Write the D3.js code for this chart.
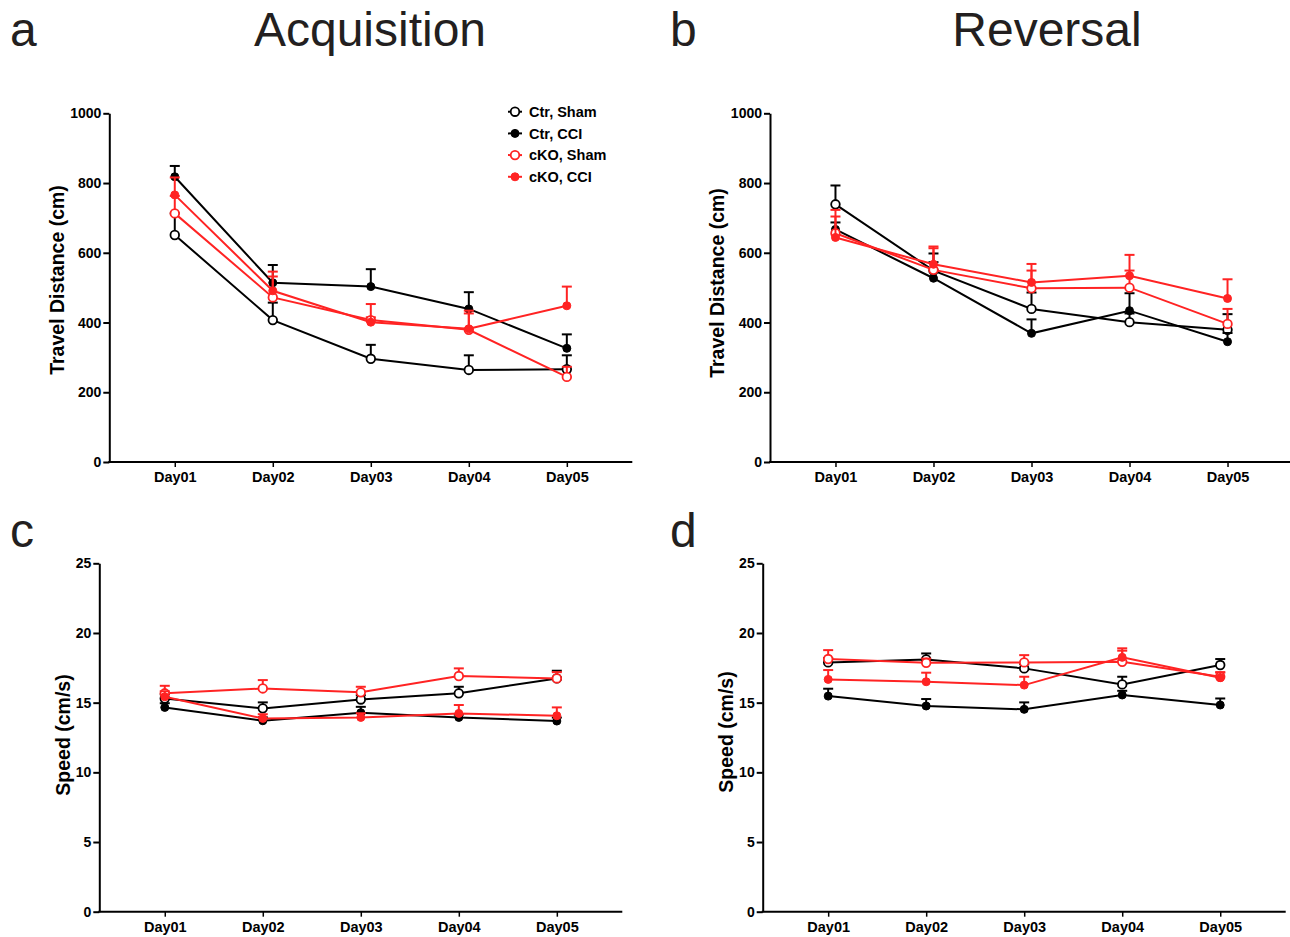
<!DOCTYPE html>
<html>
<head>
<meta charset="utf-8">
<script src="https://cdn.jsdelivr.net/npm/d3@7/dist/d3.min.js"></script>
<style>
  html, body { margin: 0; padding: 0; background: #fff; }
  svg { display: block; }
  text { font-family: "Liberation Sans", Arial, Helvetica, sans-serif; }
</style>
</head>
<body>
<svg id="chart" width="1290" height="937"></svg>
<script>
// ---------------- DATA ----------------
const days = ["Day01", "Day02", "Day03", "Day04", "Day05"];
const groups = ["Ctr, Sham", "Ctr, CCI", "cKO, Sham", "cKO, CCI"];
const distanceTicks = [0, 200, 400, 600, 800, 1000];
const speedTicks = [0, 5, 10, 15, 20, 25];

// a: Acquisition, travel distance (cm), mean and upward SEM
const acqDistCtrSham    = [651, 407, 296, 264, 266];
const acqDistCtrShamErr = [62, 50, 40, 42, 40];
const acqDistCtrCCI     = [818, 514, 503, 439, 326];
const acqDistCtrCCIErr  = [31, 51, 50, 48, 40];
const acqDistKOSham     = [713, 472, 407, 379, 244];
const acqDistKOShamErr  = [50, 60, 8, 47, 29];
const acqDistKOCCI      = [766, 491, 401, 382, 448];
const acqDistKOCCIErr   = [50, 55, 52, 52, 55];

// b: Reversal, travel distance (cm)
const revDistCtrSham    = [739, 549, 439, 401, 379];
const revDistCtrShamErr = [54, 49, 47, 25, 45];
const revDistCtrCCI     = [667, 527, 369, 434, 345];
const revDistCtrCCIErr  = [20, 46, 40, 50, 25];
const revDistKOSham     = [656, 551, 498, 500, 396];
const revDistKOShamErr  = [48, 62, 51, 49, 43];
const revDistKOCCI      = [644, 567, 515, 534, 469];
const revDistKOCCIErr   = [79, 51, 53, 60, 55];

// c: Acquisition, speed (cm/s)
const acqSpeedCtrSham    = [15.30, 14.59, 15.23, 15.67, 16.74];
const acqSpeedCtrShamErr = [0.30, 0.43, 0.30, 0.47, 0.55];
const acqSpeedCtrCCI     = [14.66, 13.70, 14.28, 13.94, 13.68];
const acqSpeedCtrCCIErr  = [0.30, 0.25, 0.42, 0.20, 0.25];
const acqSpeedKOSham     = [15.67, 16.02, 15.74, 16.91, 16.74];
const acqSpeedKOShamErr  = [0.54, 0.60, 0.40, 0.55, 0.45];
const acqSpeedKOCCI      = [15.42, 13.87, 13.94, 14.23, 14.06];
const acqSpeedKOCCIErr   = [0.40, 0.30, 0.30, 0.60, 0.60];

// d: Reversal, speed (cm/s)
const revSpeedCtrSham    = [17.89, 18.10, 17.46, 16.31, 17.70];
const revSpeedCtrShamErr = [0.30, 0.43, 0.30, 0.55, 0.43];
const revSpeedCtrCCI     = [15.47, 14.76, 14.52, 15.55, 14.83];
const revSpeedCtrCCIErr  = [0.53, 0.50, 0.50, 0.30, 0.47];
const revSpeedKOSham     = [18.13, 17.86, 17.89, 17.93, 16.86];
const revSpeedKOShamErr  = [0.64, 0.30, 0.52, 0.80, 0.30];
const revSpeedKOCCI      = [16.67, 16.50, 16.26, 18.25, 16.79];
const revSpeedKOCCIErr   = [0.67, 0.65, 0.60, 0.65, 0.40];

// ---------------- STYLE ----------------
const RED = "#ff2323";
const seriesStyle = [
  { color: "#000", open: true },
  { color: "#000", open: false },
  { color: RED, open: true },
  { color: RED, open: false }
];

const svg = d3.select("#chart");
const TEXT_DARK = "#231f20";

function buildSeries(means, errs) {
  return means.map((m, i) => ({ name: groups[i], values: m, errs: errs[i], style: seriesStyle[i] }));
}

function drawPanel(cfg) {
  const g = svg.append("g");
  const x = d3.scalePoint().domain(days).range([cfg.x0, cfg.x0 + 523]).padding(0.668);
  const y = d3.scaleLinear().domain([0, cfg.max]).range([cfg.bottom, cfg.top]);

  // y axis
  const ya = g.append("g")
    .attr("transform", `translate(${cfg.x0},0)`)
    .call(d3.axisLeft(y).tickValues(cfg.ticks).tickSize(6).tickSizeOuter(0).tickPadding(2).tickFormat(d3.format("d")));
  ya.select(".domain").attr("stroke", "#000").attr("stroke-width", 2);
  ya.selectAll(".tick line").attr("stroke", "#000").attr("stroke-width", 2);
  ya.selectAll(".tick text").attr("fill", "#000").attr("font-size", 14).attr("font-weight", "bold")
    .attr("font-family", "Liberation Sans, Arial, sans-serif");

  // x axis
  const xa = g.append("g")
    .attr("transform", `translate(0,${cfg.bottom})`)
    .call(d3.axisBottom(x).tickSize(5).tickSizeOuter(0).tickPadding(5));
  xa.select(".domain").attr("stroke", "#000").attr("stroke-width", 2)
    .attr("d", `M${cfg.x0 - 1},0H${cfg.x0 + 523}`);
  xa.selectAll(".tick line").attr("stroke", "#000").attr("stroke-width", 1.5);
  xa.selectAll(".tick text").attr("fill", "#000").attr("font-size", 14.5).attr("font-weight", "bold")
    .attr("font-family", "Liberation Sans, Arial, sans-serif");

  // axis title
  g.append("text")
    .attr("transform", `translate(${cfg.labelX},${cfg.labelY}) rotate(-90)`)
    .attr("text-anchor", "middle").attr("dy", "0.35em")
    .attr("font-size", 19.5).attr("font-weight", "bold").attr("fill", "#000")
    .text(cfg.label);

  const line = d3.line().x((d, i) => x(days[i])).y(d => y(d));

  cfg.series.forEach(s => {
    const sg = g.append("g");
    // error bars (upward)
    s.values.forEach((v, i) => {
      const cx = x(days[i]);
      const top = y(v + s.errs[i]);
      sg.append("line").attr("x1", cx).attr("x2", cx).attr("y1", y(v)).attr("y2", top)
        .attr("stroke", s.style.color).attr("stroke-width", 2);
      sg.append("line").attr("x1", cx - 5).attr("x2", cx + 5).attr("y1", top).attr("y2", top)
        .attr("stroke", s.style.color).attr("stroke-width", 2);
    });
    sg.append("path").datum(s.values).attr("d", line)
      .attr("fill", "none").attr("stroke", s.style.color).attr("stroke-width", 2);
    sg.selectAll("circle").data(s.values).enter().append("circle")
      .attr("cx", (d, i) => x(days[i])).attr("cy", d => y(d))
      .attr("r", s.style.open ? 4.3 : 4)
      .attr("fill", s.style.open ? "#fff" : s.style.color)
      .attr("stroke", s.style.color).attr("stroke-width", s.style.open ? 1.8 : 1);
  });
}

drawPanel({
  x0: 109.3, top: 113.3, bottom: 462, max: 1000, ticks: distanceTicks,
  label: "Travel Distance (cm)", labelX: 56.7, labelY: 280,
  series: buildSeries([acqDistCtrSham, acqDistCtrCCI, acqDistKOSham, acqDistKOCCI],
                      [acqDistCtrShamErr, acqDistCtrCCIErr, acqDistKOShamErr, acqDistKOCCIErr])
});
drawPanel({
  x0: 770, top: 113.3, bottom: 462, max: 1000, ticks: distanceTicks,
  label: "Travel Distance (cm)", labelX: 716.7, labelY: 283,
  series: buildSeries([revDistCtrSham, revDistCtrCCI, revDistKOSham, revDistKOCCI],
                      [revDistCtrShamErr, revDistCtrCCIErr, revDistKOShamErr, revDistKOCCIErr])
});
drawPanel({
  x0: 99.3, top: 563.3, bottom: 911.7, max: 25, ticks: speedTicks,
  label: "Speed (cm/s)", labelX: 63, labelY: 735,
  series: buildSeries([acqSpeedCtrSham, acqSpeedCtrCCI, acqSpeedKOSham, acqSpeedKOCCI],
                      [acqSpeedCtrShamErr, acqSpeedCtrCCIErr, acqSpeedKOShamErr, acqSpeedKOCCIErr])
});
drawPanel({
  x0: 762.7, top: 563.3, bottom: 911.7, max: 25, ticks: speedTicks,
  label: "Speed (cm/s)", labelX: 726, labelY: 732,
  series: buildSeries([revSpeedCtrSham, revSpeedCtrCCI, revSpeedKOSham, revSpeedKOCCI],
                      [revSpeedCtrShamErr, revSpeedCtrCCIErr, revSpeedKOShamErr, revSpeedKOCCIErr])
});

// legend (panel a)
const leg = svg.append("g");
groups.forEach((name, i) => {
  const yy = 111.7 + i * 21.7;
  const st = seriesStyle[i];
  leg.append("line").attr("x1", 508).attr("x2", 522).attr("y1", yy).attr("y2", yy)
    .attr("stroke", st.color).attr("stroke-width", 2);
  leg.append("circle").attr("cx", 515).attr("cy", yy).attr("r", st.open ? 4.3 : 4)
    .attr("fill", st.open ? "#fff" : st.color).attr("stroke", st.color).attr("stroke-width", st.open ? 1.8 : 1);
  leg.append("text").attr("x", 529).attr("y", yy).attr("dy", "0.36em")
    .attr("font-size", 14.5).attr("font-weight", "bold").attr("fill", "#000").text(name);
});

// panel letters and titles
const heads = [
  { t: "a", x: 10, y: 46, anchor: "start" },
  { t: "Acquisition", x: 370, y: 46, anchor: "middle" },
  { t: "b", x: 670, y: 46, anchor: "start" },
  { t: "Reversal", x: 1047, y: 46, anchor: "middle" },
  { t: "c", x: 10, y: 547, anchor: "start" },
  { t: "d", x: 670, y: 547, anchor: "start" }
];
heads.forEach(h => {
  svg.append("text").attr("x", h.x).attr("y", h.y).attr("text-anchor", h.anchor)
    .attr("font-size", 48).attr("fill", TEXT_DARK).text(h.t);
});
</script>
</body>
</html>
